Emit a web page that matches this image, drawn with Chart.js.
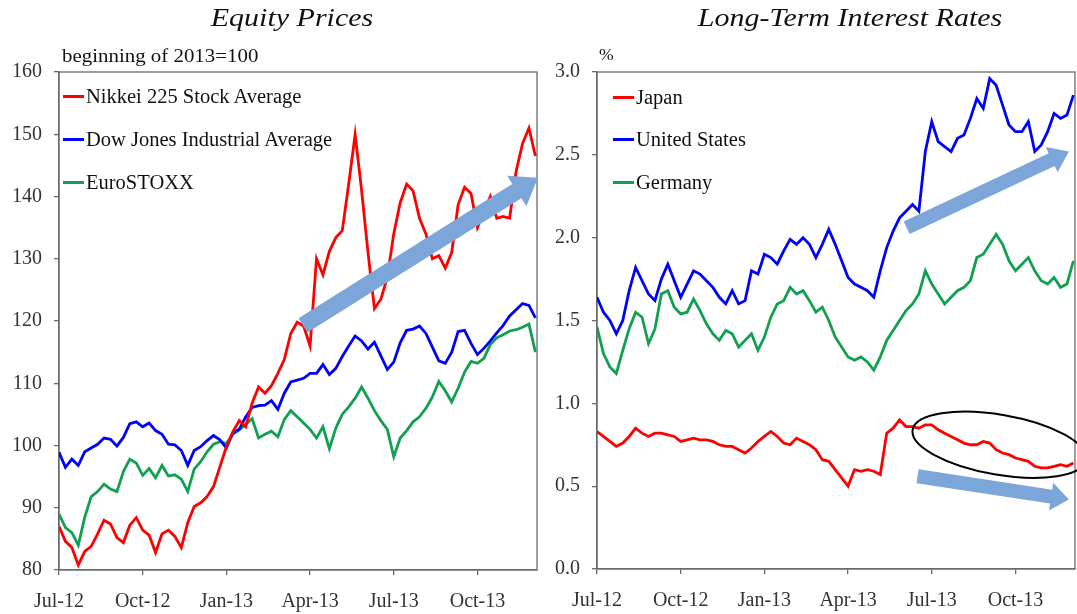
<!DOCTYPE html>
<html><head><meta charset="utf-8">
<script src="https://cdn.jsdelivr.net/npm/chart.js@4.4.1/dist/chart.umd.min.js"></script>
<style>
html,body{margin:0;padding:0;background:#fff;width:1077px;height:614px;overflow:hidden;font-family:"Liberation Serif","Times New Roman",serif;}
.panel{position:absolute;top:0;height:614px;}
.title{position:absolute;top:3px;font-style:italic;font-size:25px;line-height:30px;color:#111;white-space:nowrap;transform:translateX(-50%) scaleX(1.2);}
.unit{position:absolute;font-size:19px;line-height:19px;color:#111;white-space:nowrap;transform-origin:0 0;transform:scaleX(1.1);}
.leg{position:absolute;height:24px;display:flex;align-items:center;font-size:20.5px;color:#111;white-space:nowrap;}
.leg i{display:inline-block;width:21px;height:3px;margin-right:2px;}
</style></head>
<body>
<div class="panel" style="left:0;width:540px;"><canvas id="c1" width="540" height="614"></canvas></div>
<div class="panel" style="left:540px;width:537px;"><canvas id="c2" width="537" height="614"></canvas></div>
<div class="title" style="left:292px;">Equity Prices</div>
<div class="title" style="left:850px;">Long-Term Interest Rates</div>
<div class="unit" style="left:62px;top:46px;">beginning of 2013=100</div>
<div class="unit" style="left:599px;top:45px;font-size:16px;">%</div>
<div id="legs"></div>
<script>
// ---- Data (weekly observations, Jul 2012 - early Dec 2013) ----
const tickWeeks = [0, 13, 26, 39, 52, 65];
const tickLabels = ['Jul-12', 'Oct-12', 'Jan-13', 'Apr-13', 'Jul-13', 'Oct-13'];

const equityNames = ['Nikkei 225 Stock Average', 'Dow Jones Industrial Average', 'EuroSTOXX'];
const nikkei = [87.0,84.6,83.6,80.8,83.0,83.8,85.8,88.0,87.4,85.2,
  84.4,87.2,88.4,86.4,85.6,82.8,85.8,86.4,85.4,83.6,
  87.6,90.2,90.8,91.8,93.4,96.6,99.8,102.2,104.0,103.0,
  106.8,109.4,108.4,109.6,111.6,113.8,118.0,119.8,119.2,116.0,
  130.0,127.4,131.2,133.4,134.5,142.0,150.0,141.0,131.0,122.0,
  123.5,127.0,134.0,139.0,142.0,140.9,136.5,134.0,130.0,130.5,
  128.5,131.0,138.7,141.5,140.5,135.0,137.5,140.0,136.5,136.8,
  136.5,144.0,148.5,151.0,146.5];
const dow = [98.9,96.5,97.8,96.8,99.0,99.6,100.2,101.2,101.0,99.9,
  101.3,103.5,103.8,103.0,103.6,102.4,101.8,100.2,100.1,99.2,
  96.8,99.2,99.8,100.8,101.6,100.9,99.6,102.0,102.6,104.6,
  106.1,106.4,106.5,107.2,105.8,108.4,110.2,110.5,110.8,111.6,
  111.6,113.0,111.4,112.4,114.3,116.0,117.6,116.8,115.5,116.6,
  114.4,112.2,113.4,116.5,118.5,118.7,119.2,118.0,115.8,113.6,
  113.2,115.0,118.3,118.5,116.4,114.6,115.6,116.8,118.1,119.3,
  120.8,121.8,122.8,122.5,120.5];
const euroStoxx = [89.0,86.8,86.0,84.0,88.5,91.8,92.6,93.8,93.0,92.6,
  95.8,97.8,97.2,95.2,96.3,94.8,96.8,95.1,95.3,94.6,
  92.6,96.2,97.4,99.0,100.2,100.6,100.3,101.8,102.5,103.4,
  104.3,101.2,101.8,102.3,101.4,104.2,105.6,104.6,103.6,102.6,
  101.2,103.0,99.5,102.8,105.0,106.2,107.6,109.4,107.6,105.6,
  104.0,102.6,98.2,101.2,102.4,103.8,104.6,106.0,107.8,110.3,
  108.8,107.0,109.2,111.8,113.5,113.2,114.0,116.2,117.3,117.8,
  118.4,118.6,119.0,119.5,115.0];

const rateNames = ['Japan', 'United States', 'Germany'];
const japan = [0.83,0.80,0.77,0.74,0.76,0.80,0.85,0.82,0.80,0.82,
  0.82,0.81,0.80,0.77,0.78,0.79,0.78,0.78,0.77,0.75,
  0.74,0.74,0.72,0.70,0.73,0.77,0.80,0.83,0.80,0.76,
  0.75,0.79,0.77,0.75,0.72,0.66,0.65,0.60,0.55,0.50,
  0.60,0.59,0.60,0.59,0.57,0.82,0.85,0.90,0.86,0.86,
  0.85,0.87,0.87,0.84,0.82,0.80,0.78,0.76,0.75,0.75,
  0.77,0.76,0.72,0.70,0.69,0.67,0.66,0.65,0.62,0.61,
  0.61,0.62,0.63,0.62,0.64];
const unitedStates = [1.64,1.55,1.50,1.42,1.50,1.68,1.82,1.74,1.66,1.62,
  1.75,1.84,1.74,1.64,1.72,1.80,1.78,1.74,1.70,1.64,
  1.60,1.68,1.60,1.62,1.80,1.78,1.90,1.88,1.84,1.92,
  1.99,1.96,2.00,1.96,1.88,1.96,2.05,1.96,1.86,1.76,
  1.72,1.70,1.68,1.64,1.80,1.94,2.04,2.12,2.16,2.20,
  2.16,2.52,2.70,2.58,2.55,2.52,2.60,2.62,2.72,2.84,
  2.78,2.96,2.92,2.80,2.68,2.64,2.64,2.70,2.52,2.56,
  2.64,2.75,2.72,2.74,2.86];
const germany = [1.46,1.30,1.22,1.18,1.32,1.45,1.55,1.52,1.36,1.45,
  1.66,1.68,1.58,1.54,1.55,1.63,1.56,1.48,1.42,1.38,
  1.44,1.42,1.34,1.38,1.42,1.32,1.40,1.52,1.60,1.62,
  1.70,1.66,1.68,1.62,1.55,1.58,1.50,1.40,1.34,1.28,
  1.26,1.28,1.25,1.20,1.28,1.38,1.44,1.50,1.56,1.60,
  1.66,1.80,1.72,1.66,1.60,1.64,1.68,1.70,1.74,1.88,
  1.90,1.96,2.02,1.96,1.86,1.80,1.84,1.88,1.80,1.74,
  1.72,1.76,1.70,1.72,1.86];

// ---- Styles ----
const seriesColors = ['#ff0000', '#0000ff', '#10a050'];
const arrowColor = '#7ca6da';
const axisColor = '#6a6a6a';
const tickColor = '#333333';
const FONT = '"Liberation Serif", "Times New Roman", serif';

// Annotations in data units (week index, value)
const equityArrows = [{from: [37.9, 119.3], to: [74.4, 143.0], shaft: 17, headW: 36, headL: 25}];
const rateArrows = [
  {from: [48.1, 2.06], to: [73.3, 2.52], shaft: 14, headW: 28, headL: 19},
  {from: [49.8, 0.56], to: [73.3, 0.42], shaft: 14, headW: 28, headL: 18}
];
const rateEllipses = [{center: [62.5, 0.75], rx: 88, ry: 30, rot: 0.17}];

function toXY(arr) { return arr.map((v, i) => ({x: i, y: v})); }

function annotPlugin(arrows, ellipses) {
  return {
    id: 'annot',
    beforeDatasetsDraw(chart) {
      const a = chart.chartArea, ctx = chart.ctx;
      ctx.save();
      ctx.strokeStyle = axisColor; ctx.lineWidth = 1.3;
      ctx.strokeRect(a.left, a.top, a.right - a.left, a.bottom - a.top);
      ctx.restore();
    },
    afterDatasetsDraw(chart) {
      const ctx = chart.ctx, xs = chart.scales.x, ys = chart.scales.y;
      ctx.save();
      arrows.forEach(ar => {
        const x1 = xs.getPixelForValue(ar.from[0]), y1 = ys.getPixelForValue(ar.from[1]);
        const x2 = xs.getPixelForValue(ar.to[0]), y2 = ys.getPixelForValue(ar.to[1]);
        const dx = x2 - x1, dy = y2 - y1, len = Math.hypot(dx, dy);
        const ux = dx / len, uy = dy / len, nx = -uy, ny = ux;
        const bx = x2 - ux * ar.headL, by = y2 - uy * ar.headL;
        const s = ar.shaft / 2, h = ar.headW / 2;
        ctx.beginPath();
        ctx.moveTo(x1 + nx * s, y1 + ny * s);
        ctx.lineTo(bx + nx * s, by + ny * s);
        ctx.lineTo(bx + nx * h, by + ny * h);
        ctx.lineTo(x2, y2);
        ctx.lineTo(bx - nx * h, by - ny * h);
        ctx.lineTo(bx - nx * s, by - ny * s);
        ctx.lineTo(x1 - nx * s, y1 - ny * s);
        ctx.closePath();
        ctx.fillStyle = arrowColor;
        ctx.fill();
      });
      ellipses.forEach(el => {
        const cx = xs.getPixelForValue(el.center[0]), cy = ys.getPixelForValue(el.center[1]);
        ctx.beginPath();
        ctx.ellipse(cx, cy, el.rx, el.ry, el.rot, 0, Math.PI * 2);
        ctx.strokeStyle = '#000'; ctx.lineWidth = 2;
        ctx.stroke();
      });
      ctx.restore();
    }
  };
}

function makeChart(id, names, series, yMin, yMax, yStep, yDecimals, yWidth, xHeight, padRight, arrows, ellipses) {
  const ctx = document.getElementById(id);
  return new Chart(ctx, {
    type: 'line',
    data: {
      datasets: series.map((s, i) => ({
        label: names[i], data: toXY(s), borderColor: seriesColors[i],
        borderWidth: 2.8, pointRadius: 0, tension: 0, fill: false
      }))
    },
    options: {
      responsive: false, animation: false, events: [],
      layout: {padding: {top: 72, right: padRight, left: 0, bottom: 0}},
      plugins: {legend: {display: false}, tooltip: {enabled: false}, title: {display: false}},
      scales: {
        x: {
          type: 'linear', min: 0, max: 74.25,
          afterBuildTicks: sc => { sc.ticks = tickWeeks.map(v => ({value: v})); },
          afterFit: sc => { sc.height = xHeight; },
          ticks: {callback: (v, i) => tickLabels[i], color: tickColor, padding: 15, maxRotation: 0, autoSkip: false,
                  font: {family: FONT, size: 20}},
          grid: {display: true, drawOnChartArea: false, drawTicks: true, tickLength: 5, color: axisColor, lineWidth: 1.3},
          border: {display: true, color: axisColor, width: 1.3}
        },
        y: {
          min: yMin, max: yMax,
          afterFit: sc => { sc.width = yWidth; },
          ticks: {stepSize: yStep, color: tickColor, padding: 12,
                  callback: v => Number(v).toFixed(yDecimals), font: {family: FONT, size: 20}},
          grid: {display: true, drawOnChartArea: false, drawTicks: true, tickLength: 5, color: axisColor, lineWidth: 1.3},
          border: {display: true, color: axisColor, width: 1.3}
        }
      }
    },
    plugins: [annotPlugin(arrows, ellipses)]
  });
}

makeChart('c1', equityNames, [nikkei, dow, euroStoxx], 80, 160, 10, 0, 59, 44, 3, equityArrows, []);
makeChart('c2', rateNames, [japan, unitedStates, germany], 0, 3, 0.5, 1, 57, 45, 2, rateArrows, rateEllipses);

// HTML legends
function legend(names, left, tops) {
  const box = document.getElementById('legs');
  names.forEach((n, i) => {
    const d = document.createElement('div');
    d.className = 'leg';
    d.style.left = left + 'px'; d.style.top = tops[i] + 'px';
    const ln = document.createElement('i'); ln.style.background = seriesColors[i];
    const t = document.createElement('span'); t.textContent = n;
    d.appendChild(ln); d.appendChild(t); box.appendChild(d);
  });
}
legend(equityNames, 63, [84, 127, 170]);
legend(rateNames, 613, [85, 127, 170]);
</script>
</body></html>
